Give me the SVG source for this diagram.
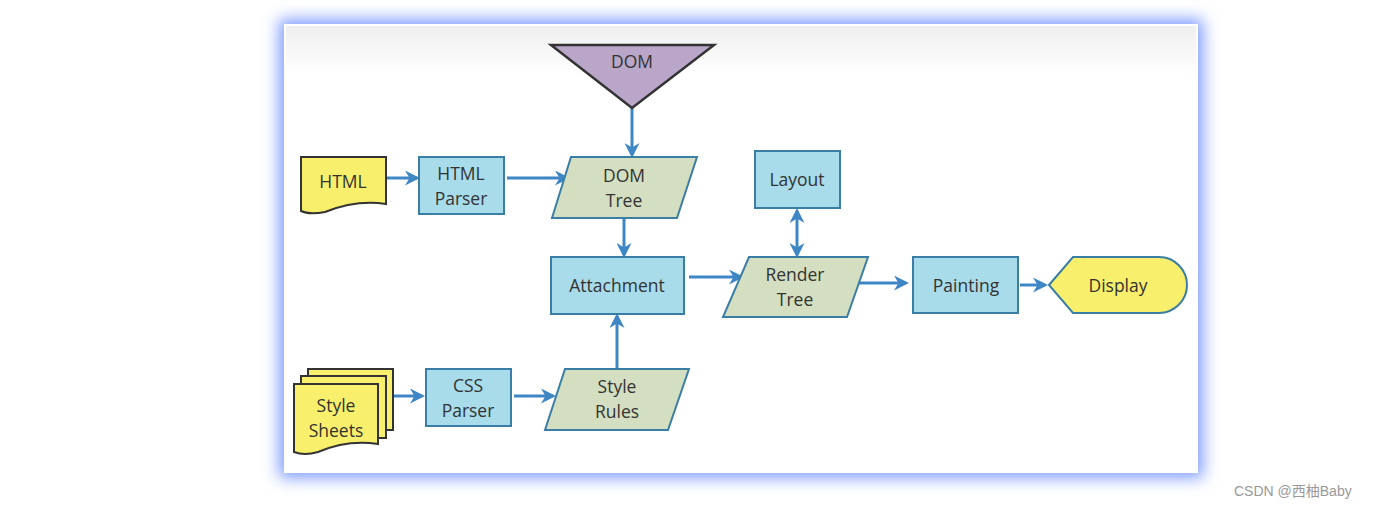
<svg xmlns="http://www.w3.org/2000/svg" width="1376" height="508" viewBox="0 0 1376 508">
<defs>
<filter id="glow" x="-10%" y="-10%" width="120%" height="120%"><feGaussianBlur stdDeviation="8"/></filter>
<linearGradient id="topg" x1="0" y1="0" x2="0" y2="1"><stop offset="0" stop-color="#efefef"/><stop offset="1" stop-color="#ffffff"/></linearGradient>
<marker id="ah" viewBox="0 0 10 10" refX="8" refY="5" markerWidth="5" markerHeight="5" orient="auto-start-reverse" markerUnits="strokeWidth">
<path d="M0,0 L10,5 L0,10 L3,5 z" fill="#3f86c4"/>
</marker>
<style>
.t{font-family:"Open Sans","Liberation Sans",sans-serif;font-size:17.5px;fill:#333;text-anchor:middle}
.box{fill:#a8dcea;stroke:#3b7ea5;stroke-width:2}
.para{fill:#d3dfc0;stroke:#3b7ea5;stroke-width:2}
.doc{fill:#f8f06c;stroke:#333;stroke-width:2}
.c{stroke:#3f86c4;stroke-width:3;fill:none;marker-end:url(#ah)}
</style>
</defs>
<rect width="1376" height="508" fill="#ffffff"/>
<rect x="279" y="19" width="924" height="459" fill="#7f9cff" filter="url(#glow)"/>
<rect x="284" y="24" width="914" height="449" fill="#ffffff"/>
<rect x="286" y="26" width="910" height="50" fill="url(#topg)"/>

<g id="connectors">
<line class="c" x1="632" y1="108" x2="632" y2="155"/>
<line class="c" x1="387" y1="178" x2="417" y2="178"/>
<line class="c" x1="507" y1="178" x2="567" y2="178"/>
<line class="c" x1="624" y1="219" x2="624" y2="255"/>
<line class="c" x1="689" y1="277" x2="741" y2="277"/>
<line class="c" x1="797" y1="211" x2="797" y2="255" style="marker-start:url(#ah)"/>
<line class="c" x1="858" y1="283" x2="906" y2="283"/>
<line class="c" x1="1020" y1="285" x2="1045" y2="285"/>
<line class="c" x1="392" y1="396" x2="422" y2="396"/>
<line class="c" x1="514" y1="396" x2="553" y2="396"/>
<line class="c" x1="617" y1="368" x2="617" y2="316"/>
</g>

<g id="dom">
<path d="M551,45 L714,45 L632,108 Z" fill="#b9a6c9" stroke="#333" stroke-width="2.5"/>
<text class="t" x="632" y="68">DOM</text>
</g>
<g id="html">
<path class="doc" d="M301,157 L386,157 L386,204 C360,200 340,206 325,212 C314,214 305,213 301,211 Z"/>
<text class="t" x="343" y="188">HTML</text>
</g>
<g id="html-parser">
<rect class="box" x="419" y="157" width="85" height="57"/>
<text class="t" x="461" y="180">HTML</text>
<text class="t" x="461" y="205">Parser</text>
</g>
<g id="dom-tree">
<path class="para" d="M571,157 L697,157 L677,218 L552,218 Z"/>
<text class="t" x="624" y="182">DOM</text>
<text class="t" x="624" y="207">Tree</text>
</g>
<g id="attachment">
<rect class="box" x="551" y="257" width="133" height="57"/>
<text class="t" x="617" y="292">Attachment</text>
</g>
<g id="layout">
<rect class="box" x="755" y="151" width="85" height="57"/>
<text class="t" x="797" y="186">Layout</text>
</g>
<g id="render-tree">
<path class="para" d="M749,257 L868,257 L847,317 L723,317 Z"/>
<text class="t" x="795" y="281">Render</text>
<text class="t" x="795" y="306">Tree</text>
</g>
<g id="painting">
<rect class="box" x="913" y="257" width="105" height="56"/>
<text class="t" x="966" y="292">Painting</text>
</g>
<g id="display">
<path d="M1049,285 L1073,257 L1159,257 A28,28 0 0 1 1159,313 L1073,313 Z" fill="#f8f06c" stroke="#3b7ea5" stroke-width="2"/>
<text class="t" x="1118" y="292">Display</text>
</g>
<g id="style-sheets">
<path class="doc" d="M308,369 L393,369 L393,430 L308,430 Z"/>
<path class="doc" d="M301,376 L386,376 L386,438 L301,438 Z"/>
<path class="doc" d="M294,384 L378,384 L378,444 C352,440 332,446 318,452 C308,455 299,454 294,452 Z"/>
<text class="t" x="336" y="412">Style</text>
<text class="t" x="336" y="437">Sheets</text>
</g>
<g id="css-parser">
<rect class="box" x="426" y="369" width="85" height="57"/>
<text class="t" x="468" y="392">CSS</text>
<text class="t" x="468" y="417">Parser</text>
</g>
<g id="style-rules">
<path class="para" d="M565,369 L689,369 L668,430 L545,430 Z"/>
<text class="t" x="617" y="393">Style</text>
<text class="t" x="617" y="418">Rules</text>
</g>
<text x="1234" y="496" font-family="'Liberation Sans','Noto Sans CJK SC',sans-serif" font-size="14" fill="#999">CSDN @西柚Baby</text>
</svg>
